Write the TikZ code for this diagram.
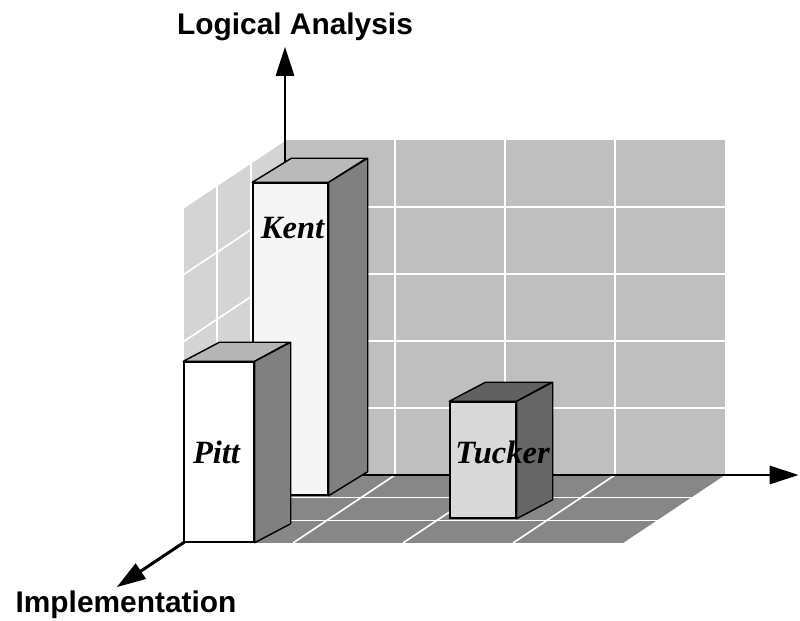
\documentclass[tikz,border=0pt]{standalone}
\usepackage{fontspec}
\setmainfont{Liberation Serif}
\setsansfont{Liberation Sans}
\usetikzlibrary{arrows.meta}

\begin{document}
\begin{tikzpicture}[>={Triangle[length=0.58cm,width=0.36cm]}]
	\tikzstyle{wall1} = [fill=black!25]
	\tikzstyle{wall2} = [fill=black!17]
	\tikzstyle{floor1} = [fill=black!47]
	\tikzstyle{grid1} = [draw=white,line width=0.9pt]
	\tikzstyle{axis1} = [draw=black,line width=1.7pt,->]
	\tikzstyle{front1} = [rectangle,draw=black,thick,inner sep=0pt]
	\tikzstyle{side1} = [draw=black,thick,line join=round]
	\tikzstyle{title1} = [font=\sffamily\bfseries\fontsize{17}{20}\selectfont,anchor=base]
	\tikzstyle{name1} = [font=\bfseries\itshape\fontsize{18.5}{20}\selectfont,inner sep=0pt]
	\useasboundingbox (0,0) rectangle (16,12.42);
	\begin{scope}[shift={(5.7,2.92)},x={(2.2cm,0cm)},y={(0cm,1.34cm)},z={(-0.68cm,-0.4533cm)}]
		\fill[wall2] (0,0,0) -- (0,5,0) -- (0,5,3) -- (0,0,3) -- cycle;
		\fill[wall1] (0,0,0) rectangle (4,5,0);
		\fill[floor1] (0,0,0) -- (4,0,0) -- (4,0,3) -- (0,0,3) -- cycle;
		\foreach \i in {1,2,3} {
			\draw[grid1] (\i,0,0) -- (\i,5,0);
			\draw[grid1] (\i,0,0) -- (\i,0,3);
		}
		\foreach \j in {1,...,4} {
			\draw[grid1] (0,\j,0) -- (4,\j,0);
			\draw[grid1] (0,\j,0) -- (0,\j,3);
		}
		\foreach \k in {1,2} {
			\draw[grid1] (0,0,\k) -- (0,5,\k);
			\draw[grid1] (0,0,\k) -- (4,0,\k);
		}
		\draw[grid1] (0,5,0) -- (0,5,3) -- (0,0,3);
		\coordinate (origin) at (0,0,0);
		\coordinate (yend) at (0,6.39,0);
		\coordinate (xend) at (4.67,0,0);
		\coordinate (zend) at (0,0,4.95);
	\end{scope}
	\draw[axis1] (origin) -- (yend);
	\draw[axis1] (origin) -- (xend);
	\draw[axis1] (origin) -- (zend);
	\node (ylabel) [title1] at (5.9,11.72) {Logical Analysis};
	\node (zlabel) [title1] at (2.52,0.16) {Implementation};
	\node (bar1) [front1,fill=black!4,minimum width=1.5cm,minimum height=6.24cm] at (5.81,5.64) {};
	\filldraw[side1,fill=black!27] (bar1.north west) -- ++(0.78,0.48) -- ++(1.5,0) -- (bar1.north east) -- cycle;
	\filldraw[side1,fill=black!50] (bar1.north east) -- ++(0.78,0.48) -- ([shift={(0.78,0.48)}]bar1.south east) -- (bar1.south east) -- cycle;
	\node (bar2) [front1,fill=white,minimum width=1.4cm,minimum height=3.6cm] at (4.38,3.38) {};
	\filldraw[side1,fill=black!29] (bar2.north west) -- ++(0.72,0.38) -- ++(1.4,0) -- (bar2.north east) -- cycle;
	\filldraw[side1,fill=black!50] (bar2.north east) -- ++(0.72,0.38) -- ([shift={(0.72,0.38)}]bar2.south east) -- (bar2.south east) -- cycle;
	\node (bar3) [front1,fill=black!15,minimum width=1.32cm,minimum height=2.32cm] at (9.66,3.22) {};
	\filldraw[side1,fill=black!62] (bar3.north west) -- ++(0.72,0.38) -- ++(1.32,0) -- (bar3.north east) -- cycle;
	\filldraw[side1,fill=black!60] (bar3.north east) -- ++(0.72,0.38) -- ([shift={(0.72,0.38)}]bar3.south east) -- (bar3.south east) -- cycle;
	\node (name1) [name1] at (5.85,7.85) {Kent};
	\node (name2) [name1] at (4.33,3.37) {Pitt};
	\node (name3) [name1] at (10.05,3.37) {Tucker};
\end{tikzpicture}
\end{document}
